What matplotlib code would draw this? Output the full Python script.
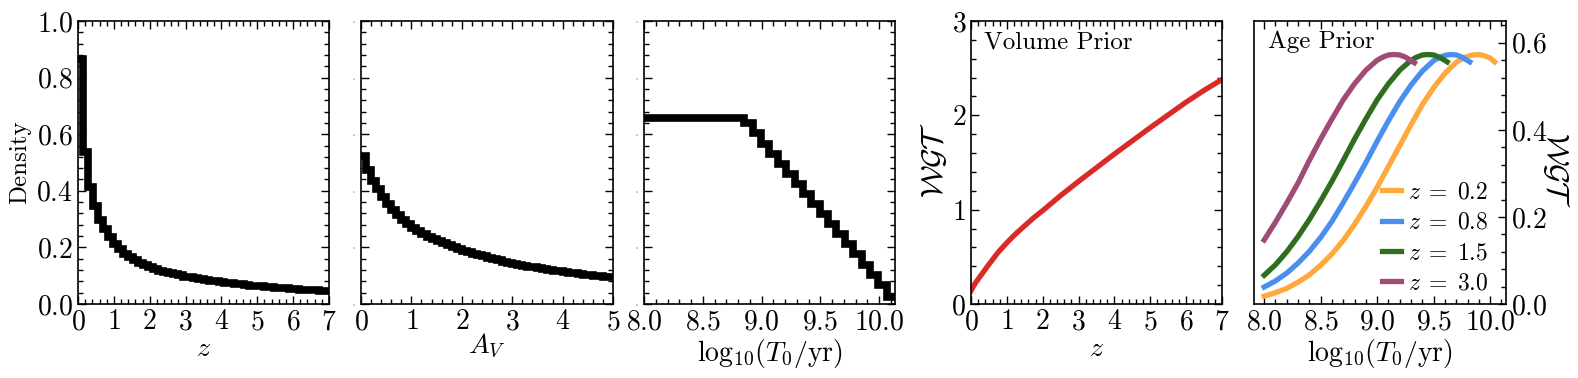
import numpy as np
import matplotlib
matplotlib.use("Agg")
import matplotlib.pyplot as plt
from matplotlib.ticker import AutoMinorLocator, MultipleLocator

plt.rcParams['font.family'] = 'serif'
plt.rcParams['font.serif'] = ['cmr10']
plt.rcParams['mathtext.fontset'] = 'cm'
plt.rcParams['axes.formatter.use_mathtext'] = True
plt.rcParams['axes.unicode_minus'] = False

# ---- data ----
# redshift prior histogram (50 bins over 0..7)
z_edges = np.linspace(0, 7, 51)
z_density = [0.866, 0.538, 0.415, 0.347, 0.297, 0.265, 0.236, 0.212, 0.193, 0.177,
             0.165, 0.154, 0.145, 0.137, 0.130, 0.124, 0.118, 0.113, 0.109, 0.105,
             0.101, 0.097, 0.094, 0.091, 0.088, 0.085, 0.082, 0.080, 0.078, 0.075,
             0.073, 0.071, 0.069, 0.067, 0.065, 0.064, 0.062, 0.061, 0.059, 0.058,
             0.056, 0.055, 0.054, 0.053, 0.051, 0.050, 0.049, 0.048, 0.046, 0.045]

# A_V prior histogram (50 bins over 0..5)
av_edges = np.linspace(0, 5, 51)
av_density = [0.522, 0.475, 0.436, 0.406, 0.377, 0.353, 0.332, 0.313, 0.296, 0.281,
              0.268, 0.257, 0.247, 0.238, 0.229, 0.221, 0.214, 0.207, 0.201, 0.195,
              0.189, 0.183, 0.178, 0.173, 0.168, 0.163, 0.158, 0.154, 0.150, 0.146,
              0.142, 0.139, 0.135, 0.132, 0.129, 0.126, 0.123, 0.120, 0.118, 0.115,
              0.113, 0.110, 0.108, 0.106, 0.104, 0.102, 0.100, 0.098, 0.096, 0.094]

# age prior histogram (30 bins over 8..10.136)
age_edges = np.linspace(8.0, 10.136, 31)
age_density = [0.658] * 12 + [0.638, 0.603, 0.567, 0.531, 0.496, 0.460, 0.424, 0.389,
                              0.353, 0.318, 0.282, 0.246, 0.211, 0.175, 0.139, 0.104,
                              0.068, 0.026]

# volume prior weight vs z
vol_z = [0, 0.1, 0.25, 0.5, 0.75, 1.0, 1.25, 1.5, 1.75, 2.0, 2.25, 2.5, 2.75, 3.0,
         3.5, 4.0, 4.5, 5.0, 5.5, 6.0, 6.5, 7.0]
vol_wgt = [0.14, 0.21, 0.29, 0.42, 0.545, 0.65, 0.745, 0.83, 0.915, 0.99, 1.07, 1.15,
           1.225, 1.30, 1.445, 1.59, 1.73, 1.87, 2.005, 2.14, 2.265, 2.38]

# age prior weight vs log age, for four redshifts
age_labels = [r'$z\;=\;0.2$', r'$z\;=\;0.8$', r'$z\;=\;1.5$', r'$z\;=\;3.0$']
age_colors = ['#ffa83c', '#4a8ff0', '#2e6e1e', '#a04a78']
t_z02 = [8.0, 8.1, 8.2, 8.3, 8.4, 8.5, 8.6, 8.7, 8.8, 8.9, 9.0, 9.1, 9.2, 9.3, 9.4,
         9.5, 9.6, 9.7, 9.75, 9.8, 9.85, 9.9, 9.95, 10.0, 10.04]
w_z02 = [0.018, 0.026, 0.036, 0.050, 0.067, 0.089, 0.115, 0.146, 0.183, 0.224, 0.268,
         0.316, 0.364, 0.412, 0.458, 0.497, 0.530, 0.555, 0.563, 0.569, 0.572, 0.573,
         0.570, 0.565, 0.556]
t_z08 = [8.0, 8.1, 8.2, 8.3, 8.4, 8.5, 8.6, 8.7, 8.8, 8.9, 9.0, 9.1, 9.2, 9.3, 9.4,
         9.5, 9.55, 9.6, 9.65, 9.7, 9.75, 9.82]
w_z08 = [0.039, 0.053, 0.071, 0.094, 0.121, 0.153, 0.190, 0.233, 0.278, 0.325, 0.374,
         0.421, 0.465, 0.503, 0.535, 0.559, 0.566, 0.571, 0.573, 0.572, 0.567, 0.556]
t_z15 = [8.0, 8.1, 8.2, 8.3, 8.4, 8.5, 8.6, 8.7, 8.8, 8.9, 9.0, 9.1, 9.2, 9.3, 9.35,
         9.4, 9.45, 9.5, 9.55, 9.62]
w_z15 = [0.066, 0.090, 0.120, 0.155, 0.194, 0.237, 0.282, 0.330, 0.379, 0.425, 0.469,
         0.506, 0.537, 0.560, 0.567, 0.572, 0.573, 0.572, 0.567, 0.556]
t_z30 = [8.0, 8.1, 8.2, 8.3, 8.4, 8.5, 8.6, 8.7, 8.8, 8.9, 9.0, 9.05, 9.1, 9.15, 9.2,
         9.25, 9.33]
w_z30 = [0.147, 0.188, 0.232, 0.278, 0.330, 0.379, 0.425, 0.469, 0.506, 0.537, 0.560,
         0.567, 0.572, 0.573, 0.572, 0.567, 0.554]
age_t = [t_z02, t_z08, t_z15, t_z30]
age_w = [w_z02, w_z08, w_z15, w_z30]

FS = 18      # annotations, "Density"
LFS = 20     # x labels
TFS = 20     # tick labels
W, H = 1578, 378
fig = plt.figure(figsize=(W / 100, H / 100), dpi=100)

def box(x0, x1, y0=21, y1=304):
    return [x0 / W, 1 - y1 / H, (x1 - x0) / W, (y1 - y0) / H]

def style(ax, left=True, right=True):
    ax.xaxis.set_minor_locator(AutoMinorLocator(5))
    ax.yaxis.set_minor_locator(AutoMinorLocator(5))
    ax.tick_params(which='both', direction='in', top=True, bottom=True,
                   left=left, right=right, labelsize=TFS, width=1.0)
    ax.tick_params(which='major', length=6)
    ax.tick_params(which='minor', length=3.5)
    for s in ax.spines.values():
        s.set_linewidth(1.2)

logt_label = r'$\mathrm{log}_{10}(T_0/\mathrm{yr})$'

ax1 = fig.add_axes(box(78, 329))
ax2 = fig.add_axes(box(361, 613))
ax3 = fig.add_axes(box(644, 895))
ax4 = fig.add_axes(box(971, 1222))
ax5 = fig.add_axes(box(1254, 1506))

ax1.stairs(z_density, z_edges, baseline=None, color='k', lw=5.5)
ax1.set_xlim(0, 7)
ax1.set_ylim(0, 1)
ax1.xaxis.set_major_locator(MultipleLocator(1))
ax1.yaxis.set_major_locator(MultipleLocator(0.2))
ax1.set_xlabel('$z$', fontsize=LFS, labelpad=0)
ax1.set_ylabel('Density', fontsize=FS)
style(ax1)

ax2.stairs(av_density, av_edges, baseline=None, color='k', lw=5.5)
ax2.set_xlim(0, 5)
ax2.set_ylim(0, 1)
ax2.xaxis.set_major_locator(MultipleLocator(1))
ax2.yaxis.set_major_locator(MultipleLocator(0.2))
ax2.set_xlabel('$A_V$', fontsize=LFS, labelpad=-2)
style(ax2)
ax2.tick_params(axis='y', labelsize=1)

ax3.stairs(age_density, age_edges, baseline=None, color='k', lw=5.5)
ax3.set_xlim(8.0, 10.136)
ax3.set_ylim(0, 1)
ax3.xaxis.set_major_locator(MultipleLocator(0.5))
ax3.yaxis.set_major_locator(MultipleLocator(0.2))
ax3.set_xlabel(logt_label, fontsize=LFS, labelpad=1)
style(ax3)
ax3.tick_params(axis='y', labelsize=1)

ax4.plot(vol_z, vol_wgt, color='#d82a26', lw=3.8)
ax4.set_xlim(0, 7)
ax4.set_ylim(0, 3)
ax4.xaxis.set_major_locator(MultipleLocator(1))
ax4.yaxis.set_major_locator(MultipleLocator(1))
ax4.set_xlabel('$z$', fontsize=LFS, labelpad=0)
ax4.set_ylabel(r'$\mathcal{WGT}$', fontsize=22, va='center', ha='center')
ax4.yaxis.set_label_coords(-0.147, 0.51)
ax4.text(0.05, 0.965, 'Volume Prior', transform=ax4.transAxes, fontsize=FS,
         va='top', ha='left')
style(ax4)

for t, w, c, lab in zip(age_t, age_w, age_colors, age_labels):
    ax5.plot(t, w, color=c, lw=3.8, label=lab)
ax5.set_xlim(7.91, 10.14)
ax5.set_ylim(0, 0.65)
ax5.xaxis.set_major_locator(MultipleLocator(0.5))
ax5.yaxis.set_major_locator(MultipleLocator(0.2))
ax5.yaxis.tick_right()
ax5.yaxis.set_label_position('right')
ax5.set_xlabel(logt_label, fontsize=LFS, labelpad=1)
ax5.set_ylabel(r'$\mathcal{WGT}$', fontsize=22, rotation=270, va='center',
               ha='center')
ax5.yaxis.set_label_coords(1.2, 0.475)
ax5.text(0.055, 0.965, 'Age Prior', transform=ax5.transAxes, fontsize=FS,
         va='top', ha='left')
style(ax5, left=False, right=True)
ax5.tick_params(labelleft=False, labelright=True)
ax5.legend(loc='lower right', bbox_to_anchor=(0.966, 0.0), frameon=False,
           fontsize=17, handlelength=0.8, handletextpad=0.3, labelspacing=0.35,
           borderaxespad=0.0)

fig.savefig('out.png', dpi=100)
